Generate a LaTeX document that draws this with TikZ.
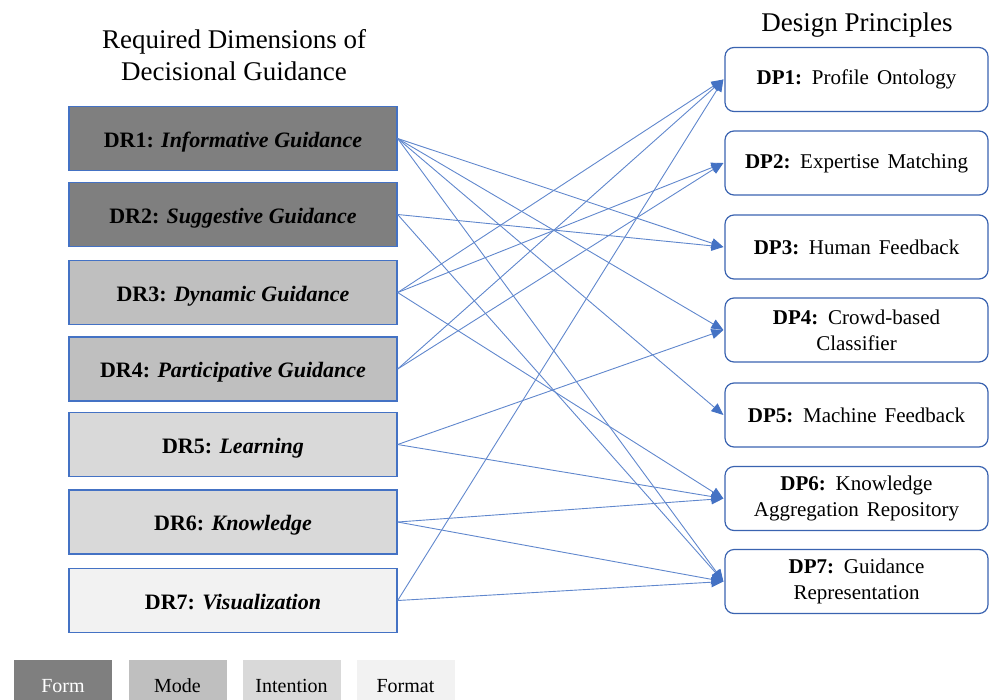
\documentclass[tikz,border=0pt]{standalone}
\usepackage{fontspec}
\setmainfont{Liberation Serif}
\usetikzlibrary{arrows.meta}
\definecolor{edgeblue}{HTML}{4472C4}
\definecolor{boxblue}{HTML}{3A63B0}
\definecolor{formc}{HTML}{7F7F7F}
\definecolor{modec}{HTML}{BFBFBF}
\definecolor{intc}{HTML}{D9D9D9}
\definecolor{fmtc}{HTML}{F2F2F2}
\newcommand\mydpfont{\fontsize{21}{26}\selectfont\spaceskip=0.38em plus 0.1em minus 0.05em\relax}
\begin{document}
\begin{tikzpicture}[x=1pt,y=-1pt,
  drbox/.style={draw=edgeblue, line width=1.3pt, minimum width=328pt, minimum height=64pt,
    inner sep=0pt, text height=17pt, text depth=0pt, font=\fontsize{22}{26}\selectfont},
  dpbox/.style={draw=boxblue, line width=1.2pt, rounded corners=9pt, minimum width=263pt,
    minimum height=64pt, inner sep=0pt, align=center, font=\mydpfont},
  link/.style={draw=edgeblue!85!white, line width=0.9pt,
    -{Triangle[length=12pt,width=10pt,color=edgeblue]}},
  legendbox/.style={minimum width=98pt, minimum height=50pt, inner sep=0pt,
    text height=14pt, text depth=0pt, font=\fontsize{20}{24}\selectfont},
  titletext/.style={align=center, font=\fontsize{27}{32}\selectfont}
]
\useasboundingbox (0,0) rectangle (990,699);

% titles
\node[titletext, anchor=base] (t1) at (234,48) {Required Dimensions of};
\node[titletext, anchor=base] (t2) at (234,80) {Decisional Guidance};
\node[titletext, anchor=base] (t3) at (857,31) {Design Principles};

% left boxes
\node[drbox, fill=formc] (dr1) at (233,138.5) {\textbf{DR1:} \textbf{\textit{Informative Guidance}}};
\node[drbox, fill=formc] (dr2) at (233,214.5) {\textbf{DR2:} \textbf{\textit{Suggestive Guidance}}};
\node[drbox, fill=modec] (dr3) at (233,292.5) {\textbf{DR3:} \textbf{\textit{Dynamic Guidance}}};
\node[drbox, fill=modec] (dr4) at (233,369) {\textbf{DR4:} \textbf{\textit{Participative Guidance}}};
\node[drbox, fill=intc] (dr5) at (233,444.5) {\textbf{DR5:} \textbf{\textit{Learning}}};
\node[drbox, fill=intc] (dr6) at (233,522) {\textbf{DR6:} \textbf{\textit{Knowledge}}};
\node[drbox, fill=fmtc] (dr7) at (233,600.5) {\textbf{DR7:} \textbf{\textit{Visualization}}};

% right boxes
\node[dpbox] (dp1) at (856.5,79.5) {\textbf{DP1:} Profile Ontology};
\node[dpbox] (dp2) at (856.5,163) {\textbf{DP2:} Expertise Matching};
\node[dpbox] (dp3) at (856.5,247) {\textbf{DP3:} Human Feedback};
\node[dpbox] (dp4) at (856.5,330) {\textbf{DP4:} Crowd-based\\Classifier};
\node[dpbox] (dp5) at (856.5,415) {\textbf{DP5:} Machine Feedback};
\node[dpbox] (dp6) at (856.5,498.5) {\textbf{DP6:} Knowledge\\Aggregation Repository};
\node[dpbox] (dp7) at (856.5,581.5) {\textbf{DP7:} Guidance\\Representation};

% connectors
\foreach \s/\t in {dr1/dp3, dr1/dp4, dr1/dp5, dr1/dp7,
                   dr2/dp3, dr2/dp7,
                   dr3/dp1, dr3/dp2, dr3/dp6,
                   dr4/dp1, dr4/dp2,
                   dr5/dp4, dr5/dp6,
                   dr6/dp6, dr6/dp7,
                   dr7/dp1, dr7/dp7}
  \draw[link] (\s.east) -- ([xshift=-1pt]\t.west);

% legend
\node[legendbox, fill=formc, text=white] (lg1) at (63,685) {Form};
\node[legendbox, fill=modec] (lg2) at (177.5,685) {Mode};
\node[legendbox, fill=intc] (lg3) at (291.5,685) {Intention};
\node[legendbox, fill=fmtc] (lg4) at (405.5,685) {Format};
\end{tikzpicture}
\end{document}
